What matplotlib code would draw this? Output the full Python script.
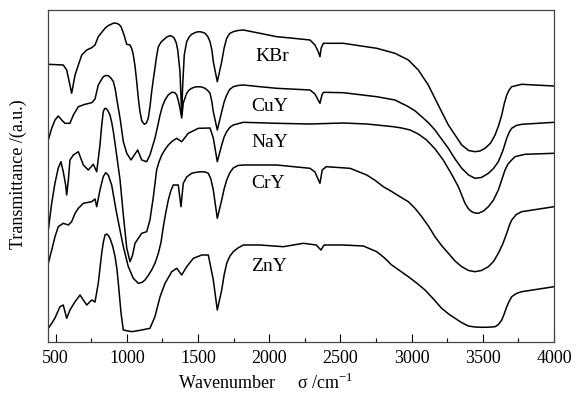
import matplotlib
matplotlib.use("Agg")
import matplotlib.pyplot as plt
from matplotlib.ticker import MultipleLocator

# wavenumber (cm-1) / transmittance (a.u., offset curves)
kbr_wn = [448, 553, 577, 600, 612, 636, 659, 683, 718, 753, 776, 799, 846, 870, 893, 910, 928, 945,
          959, 970, 980, 999, 1022, 1035, 1045, 1057, 1069, 1080, 1092, 1105, 1122, 1137, 1150, 1162,
          1174, 1186, 1197, 1209, 1221, 1240, 1256, 1280, 1303, 1320, 1333, 1347, 1357, 1373, 1385,
          1392, 1403, 1420, 1437, 1455, 1480, 1502, 1525, 1549, 1568, 1584, 1597, 1607, 1635, 1666,
          1683, 1701, 1722, 1747, 1780, 1818, 1935, 2052, 2150, 2286, 2321, 2345, 2356, 2365, 2380,
          2520, 2755, 2883, 2977, 3047, 3117, 3187, 3258, 3352, 3400, 3445, 3480, 3516, 3555, 3586,
          3610, 3633, 3650, 3668, 3685, 3703, 3773, 4000]
kbr_t = [277.7, 277, 272, 257, 248.7, 267, 277, 287, 292, 294.3, 297, 305.3, 313.7, 316.5, 318, 319,
         318.7, 317.5, 315.3, 311, 307, 297.7, 297, 293, 287, 276, 260.3, 244, 230.3, 221, 217.7, 219,
         223.7, 235, 250.3, 263, 273.7, 286, 295.3, 300, 302, 305, 306.3, 305.5, 303.7, 299, 292, 270.3,
         227, 257, 287, 300.3, 305, 307.7, 309.5, 310.3, 310, 308.7, 305.5, 300.3, 292, 280.3, 260.3,
         280.3, 294, 303.7, 308.5, 310.3, 311.5, 312, 308.7, 305.3, 304, 302, 297, 290, 285.3, 294,
         298.7, 298.7, 293.7, 288.7, 282, 272, 257, 237, 217, 197, 191.5, 190.3, 191, 193.7, 199, 207,
         216, 227, 238, 247, 252, 255.3, 257.7, 256]

cuy_wn = [448, 472, 495, 518, 542, 565, 600, 624, 659, 706, 753, 776, 799, 834, 852, 869, 888, 905,
          918, 928, 952, 975, 999, 1029, 1057, 1076, 1104, 1139, 1162, 1197, 1215, 1233, 1250, 1268,
          1290, 1315, 1335, 1350, 1362, 1373, 1385, 1396, 1420, 1437, 1455, 1480, 1502, 1525, 1549,
          1568, 1584, 1596, 1607, 1635, 1666, 1683, 1701, 1722, 1747, 1780, 1818, 1935, 2052, 2286,
          2321, 2356, 2370, 2380, 2520, 2755, 2883, 2977, 3025, 3071, 3120, 3164, 3210, 3258, 3305,
          3352, 3400, 3445, 3490, 3539, 3575, 3609, 3640, 3668, 3686, 3703, 3735, 3773, 4000]
cuy_t = [202, 213.7, 222, 226, 222, 218.7, 218.7, 227, 235.3, 237.7, 239.3, 243, 257, 265.3, 266.5,
         266.3, 264, 260.3, 253, 243.7, 223.7, 200.3, 188.7, 182, 188, 192, 182, 180.3, 187, 203.7, 215,
         227, 236, 242, 247, 249.7, 249.5, 247, 241, 233.7, 224, 239, 248.7, 252, 253.7, 255, 255.3, 255,
         253.7, 251.5, 248.7, 241, 230.3, 212, 230.3, 240, 247, 252.5, 255.3, 256.5, 257, 255.3, 253.7,
         252, 248, 238.7, 247, 249.7, 249.3, 245.3, 242, 235.3, 231, 225.3, 219, 212, 203, 193.7, 183,
         173.7, 167, 163.7, 164.5, 168.7, 173.5, 180.3, 191, 203.7, 210, 213.7, 216.5, 217.7, 219.7]

nay_wn = [448, 472, 495, 518, 537, 553, 570, 577, 589, 600, 624, 659, 694, 729, 764, 788, 811, 822,
          834, 844, 853, 866, 881, 893, 905, 928, 952, 975, 999, 1022, 1040, 1057, 1104, 1139, 1162,
          1186, 1209, 1225, 1245, 1268, 1291, 1320, 1350, 1385, 1431, 1502, 1584, 1607, 1635, 1666,
          1683, 1701, 1722, 1747, 1818, 2052, 2286, 2520, 2685, 2872, 2930, 2989, 3047, 3105, 3165,
          3222, 3280, 3328, 3375, 3400, 3422, 3445, 3469, 3505, 3539, 3575, 3609, 3635, 3656, 3675,
          3691, 3726, 3796, 4000]
nay_t = [112, 139, 159, 174, 180.3, 170.3, 157, 147, 162, 182, 187, 190.3, 177, 172, 177.7, 170.3, 197,
         215, 230.3, 233.5, 233.7, 231.5, 227, 220, 210.3, 187, 162, 127, 94, 80.3, 87, 98.7, 108.7,
         110.3, 122, 145.3, 172, 180, 187, 192.5, 197, 201, 203.7, 200.3, 208.7, 213.7, 214, 204, 180.3,
         197, 205, 210.3, 214.5, 217, 219.7, 218.7, 218, 219, 218, 215.3, 214, 212, 208, 202, 193, 182,
         168, 155.3, 138.7, 133, 130.3, 129, 128.7, 131, 135.3, 142, 152, 163, 172, 177.5, 180.3, 185.3,
         187.7, 188.7]

cry_wn = [448, 472, 495, 518, 553, 589, 612, 636, 659, 694, 753, 776, 788, 811, 834, 851, 869, 893,
          928, 975, 1010, 1045, 1080, 1105, 1127, 1150, 1174, 1198, 1221, 1240, 1256, 1274, 1291, 1308,
          1326, 1361, 1380, 1396, 1420, 1455, 1490, 1526, 1550, 1572, 1590, 1607, 1635, 1666, 1683,
          1701, 1722, 1747, 1780, 1818, 2052, 2286, 2321, 2356, 2372, 2400, 2567, 2685, 2745, 2801,
          2860, 2918, 2977, 3025, 3071, 3120, 3164, 3210, 3258, 3305, 3352, 3400, 3445, 3490, 3539,
          3575, 3609, 3640, 3668, 3686, 3703, 3735, 3773, 4000]
cry_t = [78.7, 92, 105.3, 115.3, 118.7, 117, 120.3, 128.7, 133.7, 138.7, 140.3, 143, 135.3, 152, 165.3,
         169.3, 167, 157, 128.7, 95.3, 75.3, 63.7, 58.7, 59.5, 62, 66.5, 72, 79, 88.7, 100, 115.3, 130,
         142, 151, 157, 157, 135.3, 158.7, 165, 168.7, 169.8, 170.3, 170, 168.7, 163, 152, 123.7, 142,
         153, 162, 169, 174, 176.5, 177, 177, 173.7, 170, 158.7, 172, 175.3, 173.7, 167, 161.5, 155.3,
         150.5, 145.3, 140.3, 133.5, 125.3, 115.5, 105.3, 96.5, 88.7, 81, 75.3, 71.5, 70.3, 71.5, 75.3,
         80.5, 88.7, 98, 108.7, 116.5, 122, 127.5, 130.3, 135.3]

zny_wn = [448, 472, 495, 530, 553, 577, 600, 636, 671, 694, 718, 753, 776, 799, 823, 835, 846, 858,
          870, 881, 900, 917, 930, 940, 959, 975, 1034, 1104, 1162, 1197, 1233, 1268, 1315, 1350, 1385,
          1420, 1467, 1526, 1572, 1607, 1635, 1666, 1683, 1701, 1722, 1747, 1780, 1818, 1935, 2099,
          2239, 2330, 2363, 2385, 2520, 2661, 2755, 2810, 2860, 2920, 2977, 3035, 3094, 3150, 3211,
          3260, 3305, 3350, 3398, 3445, 3492, 3540, 3586, 3610, 3633, 3650, 3668, 3686, 3703, 3735,
          3773, 4000]
zny_t = [13.7, 18.7, 24, 35.3, 37, 23.7, 32, 40.3, 47, 42, 37, 42, 40, 58.7, 88.7, 100, 107, 108, 106.5,
         103.7, 96, 85.3, 73, 58.7, 28.7, 12, 10.3, 12, 13.7, 25.3, 45.3, 58.7, 70.3, 73.7, 67, 75.3,
         83.7, 87, 87, 62, 32, 52, 67, 78.7, 85.5, 90.3, 94, 97, 97, 95.3, 98.7, 97, 92, 97, 97, 96, 90.3,
         84, 77, 71, 65.3, 59, 52, 43.5, 33.7, 28, 23.7, 19.5, 16, 15, 14.7, 14.8, 15.3, 17.5, 22, 28,
         35.3, 41, 45.3, 48.5, 50.3, 55.3]

labels = ["KBr", "CuY", "NaY", "CrY", "ZnY"]
label_x = [1900, 1870, 1877, 1870, 1870]
label_y = [281, 231, 195.3, 153.7, 71.3]

plt.rcParams["font.family"] = ["Liberation Serif", "DejaVu Serif"]
plt.rcParams["mathtext.fontset"] = "custom"
plt.rcParams["mathtext.rm"] = "Liberation Serif"

fig = plt.figure(figsize=(5.76, 3.97), dpi=100)
ax = fig.add_axes([48.3 / 576, 55 / 397, 505.7 / 576, 332.5 / 397])

for wn, t in [(kbr_wn, kbr_t), (cuy_wn, cuy_t), (nay_wn, nay_t), (cry_wn, cry_t), (zny_wn, zny_t)]:
    ax.plot(wn, t, color="black", lw=1.1)

for name, x, y in zip(labels, label_x, label_y):
    ax.text(x, y, name, fontsize=14, ha="left", va="baseline")

ax.set_xlim(448, 4000)
ax.set_ylim(0, 332.5)
ax.xaxis.set_major_locator(MultipleLocator(500))
ax.xaxis.set_minor_locator(MultipleLocator(250))
ax.set_yticks([])
ax.tick_params(axis="x", which="major", direction="in", length=6, width=0.8, labelsize=13, pad=6)
ax.tick_params(axis="x", which="minor", direction="in", length=3, width=0.8)
for s in ax.spines.values():
    s.set_color("#444444")
    s.set_linewidth(0.9)

fig.text(178 / 576, 14 / 397, "Wavenumber     \u03c3 /cm$^{-1}$", fontsize=13, ha="left", va="center")
fig.text(18 / 576, 0.56, "Transmittance /(a.u.)", fontsize=13, rotation=90, ha="center", va="center")

fig.savefig("out.png", dpi=100)
